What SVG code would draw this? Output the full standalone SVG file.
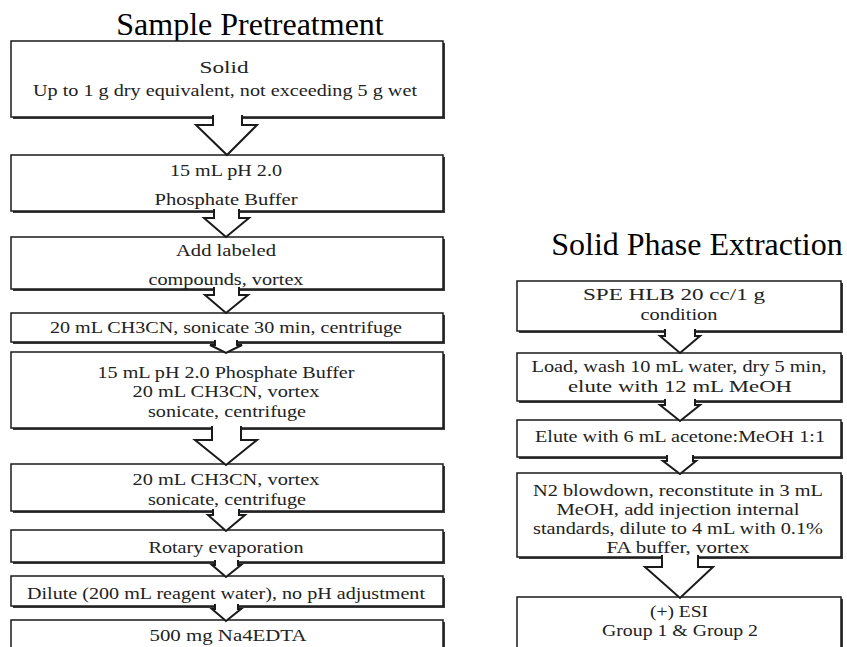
<svg xmlns="http://www.w3.org/2000/svg" width="847" height="647" viewBox="0 0 847 647">
<style>
.bg{fill:#ffffff}
.sh{fill:#3a3a3a}
.box{fill:#ffffff;stroke:#1a1a1a;stroke-width:1.5}
.t{font-family:"Liberation Serif","Times New Roman",serif;font-size:17px;fill:#222;text-anchor:middle}
.title{font-family:"Liberation Serif","Times New Roman",serif;font-size:32px;fill:#000;text-anchor:middle}
.ar{fill:#ffffff;stroke:#1a1a1a;stroke-width:2;stroke-linejoin:miter}
</style>
<rect class="bg" x="0" y="0" width="847" height="647"/>
<text class="title" x="250" y="35">Sample Pretreatment</text>
<text class="title" x="697" y="255">Solid Phase Extraction</text>

<g id="b1"><rect class="sh" x="13" y="43" width="432" height="76"/><rect class="box" x="11" y="41" width="432" height="76"/>
<text class="t" x="224" y="73" textLength="49" lengthAdjust="spacingAndGlyphs">Solid</text><text class="t" x="225" y="96" textLength="384" lengthAdjust="spacingAndGlyphs">Up to 1 g dry equivalent, not exceeding 5 g wet</text></g>
<g id="b2"><rect class="sh" x="13" y="157" width="432" height="56"/><rect class="box" x="11" y="155" width="432" height="56"/>
<text class="t" x="226" y="176" textLength="112" lengthAdjust="spacingAndGlyphs">15 mL pH 2.0</text><text class="t" x="226" y="205" textLength="143" lengthAdjust="spacingAndGlyphs">Phosphate Buffer</text></g>
<g id="b3"><rect class="sh" x="13" y="239" width="432" height="52"/><rect class="box" x="11" y="237" width="432" height="52"/>
<text class="t" x="226" y="256" textLength="100" lengthAdjust="spacingAndGlyphs">Add labeled</text><text class="t" x="226" y="285" textLength="155" lengthAdjust="spacingAndGlyphs">compounds, vortex</text></g>
<g id="b4"><rect class="sh" x="13" y="315" width="432" height="29"/><rect class="box" x="11" y="313" width="432" height="29"/>
<text class="t" x="226" y="333" textLength="352" lengthAdjust="spacingAndGlyphs">20 mL CH3CN, sonicate 30 min, centrifuge</text></g>
<g id="b5"><rect class="sh" x="13" y="354" width="432" height="76"/><rect class="box" x="11" y="352" width="432" height="76"/>
<text class="t" x="226" y="378" textLength="257" lengthAdjust="spacingAndGlyphs">15 mL pH 2.0 Phosphate Buffer</text><text class="t" x="226" y="397" textLength="187" lengthAdjust="spacingAndGlyphs">20 mL CH3CN, vortex</text><text class="t" x="227" y="417" textLength="158" lengthAdjust="spacingAndGlyphs">sonicate, centrifuge</text></g>
<g id="b6"><rect class="sh" x="13" y="466" width="432" height="47"/><rect class="box" x="11" y="464" width="432" height="47"/>
<text class="t" x="226" y="485" textLength="187" lengthAdjust="spacingAndGlyphs">20 mL CH3CN, vortex</text><text class="t" x="227" y="505" textLength="158" lengthAdjust="spacingAndGlyphs">sonicate, centrifuge</text></g>
<g id="b7"><rect class="sh" x="13" y="532" width="432" height="32"/><rect class="box" x="11" y="530" width="432" height="32"/>
<text class="t" x="226" y="553" textLength="155" lengthAdjust="spacingAndGlyphs">Rotary evaporation</text></g>
<g id="b8"><rect class="sh" x="13" y="578" width="432" height="30"/><rect class="box" x="11" y="576" width="432" height="30"/>
<text class="t" x="226" y="599" textLength="398" lengthAdjust="spacingAndGlyphs">Dilute (200 mL reagent water), no pH adjustment</text></g>
<g id="b9"><rect class="sh" x="13" y="622" width="432" height="40"/><rect class="box" x="11" y="620" width="432" height="40"/>
<text class="t" x="228" y="641" textLength="157" lengthAdjust="spacingAndGlyphs">500 mg Na4EDTA</text></g>

<g id="r1"><rect class="sh" x="519" y="283" width="324" height="50"/><rect class="box" x="517" y="281" width="324" height="50"/>
<text class="t" x="674" y="300" textLength="182" lengthAdjust="spacingAndGlyphs">SPE HLB 20 cc/1 g</text><text class="t" x="679" y="320" textLength="77" lengthAdjust="spacingAndGlyphs">condition</text></g>
<g id="r2"><rect class="sh" x="519" y="355" width="324" height="48"/><rect class="box" x="517" y="353" width="324" height="48"/>
<text class="t" x="679" y="372" textLength="295" lengthAdjust="spacingAndGlyphs">Load, wash 10 mL water, dry 5 min,</text><text class="t" x="680" y="392" textLength="224" lengthAdjust="spacingAndGlyphs">elute with 12 mL MeOH</text></g>
<g id="r3"><rect class="sh" x="519" y="422" width="324" height="37"/><rect class="box" x="517" y="420" width="324" height="37"/>
<text class="t" x="680" y="442" textLength="290" lengthAdjust="spacingAndGlyphs">Elute with 6 mL acetone:MeOH 1:1</text></g>
<g id="r4"><rect class="sh" x="519" y="475" width="324" height="84"/><rect class="box" x="517" y="473" width="324" height="84"/>
<text class="t" x="678" y="496" textLength="290" lengthAdjust="spacingAndGlyphs">N2 blowdown, reconstitute in 3 mL</text><text class="t" x="678" y="515" textLength="243" lengthAdjust="spacingAndGlyphs">MeOH, add injection internal</text><text class="t" x="678" y="534" textLength="290" lengthAdjust="spacingAndGlyphs">standards, dilute to 4 mL with 0.1%</text><text class="t" x="678" y="553" textLength="143" lengthAdjust="spacingAndGlyphs">FA buffer, vortex</text></g>
<g id="r5"><rect class="sh" x="519" y="599" width="324" height="60"/><rect class="box" x="517" y="597" width="324" height="60"/>
<text class="t" x="679" y="617" textLength="58" lengthAdjust="spacingAndGlyphs">(+) ESI</text><text class="t" x="680" y="636" textLength="156" lengthAdjust="spacingAndGlyphs">Group 1 &amp; Group 2</text></g>

<g id="connectors">
<path class="ar" d="M213,115 V125 H196 L227,155 L257,125 H242 V115"/>
<path class="ar" d="M214,209 V218 H204 L226,237 L249,218 H239 V209"/>
<path class="ar" d="M214,287 V295 H205 L226,313 L248,295 H239 V287"/>
<path class="ar" d="M215,340 V345 H210 L226,353 L242,345 H237 V340"/>
<path class="ar" d="M212,426 V440 H195 L226,465 L257,440 H241 V426"/>
<path class="ar" d="M213,509 V515 H208 L226,531 L245,515 H239 V509"/>
<path class="ar" d="M215,560 V565 H212 L226,577 L241,565 H238 V560"/>
<path class="ar" d="M215,604 V609 H212 L226,621 L241,609 H238 V604"/>
<path class="ar" d="M665,329 V336 H660 L680,353 L700,336 H695 V329"/>
<path class="ar" d="M665,399 V405 H660 L680,421 L700,405 H695 V399"/>
<path class="ar" d="M667,455 V461 H663 L680,474 L696,461 H693 V455"/>
<path class="ar" d="M662,555 V567 H645 L680,598 L713,567 H698 V555"/>
</g>
</svg>
